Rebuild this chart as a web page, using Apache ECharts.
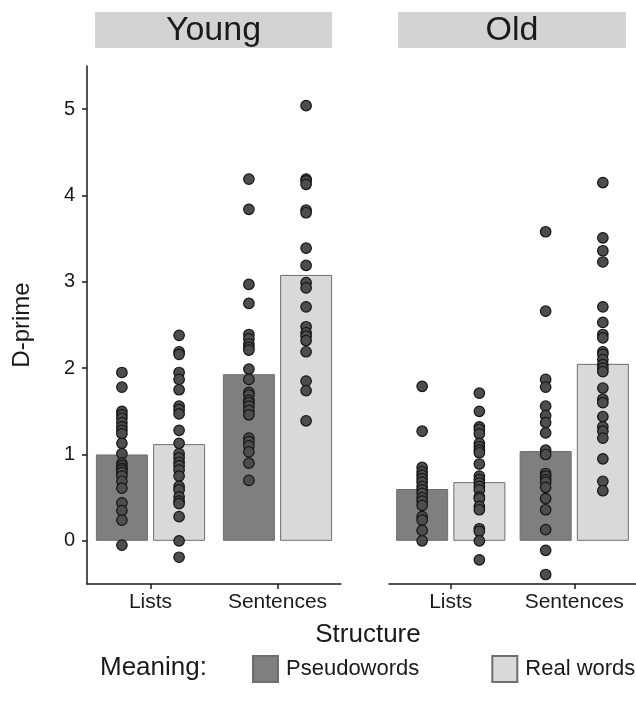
<!DOCTYPE html>
<html>
<head>
<meta charset="utf-8">
<script src="https://cdn.jsdelivr.net/npm/echarts@6/dist/echarts.min.js"></script>
<style>html,body{margin:0;padding:0;background:#fff;}#c{width:636px;height:713px;}</style>
</head>
<body>
<div id="c"></div>
<script>
// ---- data ----
var structures = ['Lists', 'Sentences'];
var panels = ['Young', 'Old'];
var meanings = ['Pseudowords', 'Real words'];
var yTicks = [0, 1, 2, 3, 4, 5];

var youngPseudoMeans = [1.00, 1.93];
var youngRealMeans = [1.12, 3.08];
var oldPseudoMeans = [0.60, 1.04];
var oldRealMeans = [0.68, 2.05];

var youngPseudoLists = [1.95, 1.78, 1.50, 1.46, 1.42, 1.37, 1.32, 1.28, 1.24, 1.13, 1.01, 0.90, 0.87, 0.84, 0.82, 0.79, 0.75, 0.69, 0.61, 0.44, 0.35, 0.24, -0.05];
var youngRealLists = [2.38, 2.19, 2.16, 1.95, 1.87, 1.75, 1.56, 1.52, 1.47, 1.28, 1.13, 1.01, 0.96, 0.91, 0.87, 0.82, 0.75, 0.63, 0.59, 0.51, 0.46, 0.43, 0.28, 0.00, -0.19];
var youngPseudoSentences = [4.19, 3.84, 2.97, 2.75, 2.39, 2.34, 2.28, 2.24, 2.21, 1.99, 1.87, 1.72, 1.69, 1.63, 1.60, 1.56, 1.51, 1.46, 1.19, 1.15, 1.10, 1.03, 0.90, 0.70];
var youngRealSentences = [5.04, 4.19, 4.17, 4.13, 3.83, 3.80, 3.39, 3.19, 2.99, 2.93, 2.71, 2.48, 2.41, 2.37, 2.32, 2.19, 1.85, 1.74, 1.39];
var oldPseudoLists = [1.79, 1.27, 0.85, 0.80, 0.76, 0.72, 0.68, 0.63, 0.59, 0.55, 0.50, 0.46, 0.41, 0.28, 0.24, 0.12, 0.00];
var oldRealLists = [1.71, 1.50, 1.32, 1.29, 1.24, 1.13, 1.09, 1.05, 1.02, 0.89, 0.75, 0.71, 0.67, 0.63, 0.59, 0.51, 0.49, 0.40, 0.36, 0.14, 0.11, 0.00, -0.22];
var oldPseudoSentences = [3.58, 2.66, 1.87, 1.78, 1.56, 1.45, 1.37, 1.25, 1.05, 1.00, 0.78, 0.75, 0.71, 0.68, 0.62, 0.49, 0.36, 0.13, -0.11, -0.39];
var oldRealSentences = [4.15, 3.51, 3.36, 3.23, 2.71, 2.53, 2.39, 2.35, 2.19, 2.16, 2.10, 2.04, 2.00, 1.96, 1.77, 1.64, 1.60, 1.44, 1.32, 1.27, 1.19, 0.95, 0.69, 0.58];

// ---- styling ----
var FONT = 'Liberation Sans';
var pseudoColor = '#7f7f7f';
var realColor = '#d9d9d9';
var barBorder = '#6e6e6e';
var barWidth = 52;
var barGapPct = 10;
var dotOffset = barWidth * (1 + barGapPct / 100) / 2;

function pts(cat, arr) { return arr.map(function (v) { return [cat, v]; }); }

var gridTop = 66, gridH = 518, gridW = 254;
var grids = [
  { left: 87, top: gridTop, width: gridW, height: gridH },
  { left: 389, top: gridTop, width: gridW, height: gridH }
];

function xAxisFor(i) {
  return {
    type: 'category', gridIndex: i, data: structures,
    axisLine: { show: true, onZero: false, lineStyle: { color: '#1a1a1a', width: 1.5 } },
    axisTick: { show: true, interval: 0, alignWithLabel: true, length: 5, lineStyle: { color: '#1a1a1a', width: 1.5 } },
    axisLabel: { interval: 0, hideOverlap: false, color: '#1a1a1a', fontSize: 21, fontFamily: FONT, margin: 8 },
    splitLine: { show: false }
  };
}
function yAxisFor(i) {
  return {
    type: 'value', gridIndex: i, min: -0.5, max: 5.5,
    show: i === 0,
    name: i === 0 ? 'D-prime' : '',
    nameLocation: 'middle', nameRotate: 90, nameGap: 53,
    nameTextStyle: { color: '#1a1a1a', fontSize: 24, fontFamily: FONT },
    axisLine: { show: true, onZero: false, lineStyle: { color: '#1a1a1a', width: 1.5 } },
    axisTick: { show: true, length: 5, customValues: yTicks, lineStyle: { color: '#1a1a1a', width: 1.5 } },
    axisLabel: { color: '#1a1a1a', fontSize: 20, fontFamily: FONT, margin: 12, customValues: yTicks },
    splitLine: { show: false }
  };
}

function barSeries(name, axis, data, color) {
  return {
    type: 'bar', name: name, xAxisIndex: axis, yAxisIndex: axis, data: data,
    barWidth: barWidth, barGap: barGapPct + '%',
    itemStyle: { color: color, borderColor: barBorder, borderWidth: 1 },
    z: 2, silent: true
  };
}
function dotSeries(name, axis, data, off) {
  return {
    type: 'scatter', name: name, xAxisIndex: axis, yAxisIndex: axis, data: data,
    symbol: 'circle', symbolSize: 10.5, symbolOffset: [off, 0],
    itemStyle: { color: '#4d4d4d', borderColor: '#141414', borderWidth: 1.2, opacity: 1 },
    z: 5, silent: true
  };
}

var series = [
  barSeries('Pseudowords', 0, youngPseudoMeans, pseudoColor),
  barSeries('Real words', 0, youngRealMeans, realColor),
  barSeries('Pseudowords', 1, oldPseudoMeans, pseudoColor),
  barSeries('Real words', 1, oldRealMeans, realColor),
  dotSeries('yp', 0, pts('Lists', youngPseudoLists).concat(pts('Sentences', youngPseudoSentences)), -dotOffset),
  dotSeries('yr', 0, pts('Lists', youngRealLists).concat(pts('Sentences', youngRealSentences)), dotOffset),
  dotSeries('op', 1, pts('Lists', oldPseudoLists).concat(pts('Sentences', oldPseudoSentences)), -dotOffset),
  dotSeries('or', 1, pts('Lists', oldRealLists).concat(pts('Sentences', oldRealSentences)), dotOffset)
];

var stripStyle = { fill: '#d3d3d3' };
var stripText = { fill: '#1a1a1a', fontSize: 34, fontFamily: FONT, align: 'center', verticalAlign: 'middle' };

var chart = echarts.init(document.getElementById('c'), null, { renderer: 'canvas' });
chart.setOption({
  animation: false,
  backgroundColor: '#ffffff',
  grid: grids,
  xAxis: [xAxisFor(0), xAxisFor(1)],
  yAxis: [yAxisFor(0), yAxisFor(1)],
  legend: {
    data: meanings, left: 252, top: 655, width: 384, orient: 'horizontal', padding: 0,
    icon: 'rect', itemWidth: 25, itemHeight: 26, itemGap: 72,
    textStyle: { color: '#1a1a1a', fontSize: 22, fontFamily: FONT, padding: [0, 0, 0, 3] },
    selectedMode: false
  },
  graphic: [
    { type: 'rect', shape: { x: 95, y: 12, width: 237, height: 36 }, style: stripStyle, silent: true },
    { type: 'text', x: 213.5, y: 31, style: Object.assign({ text: panels[0] }, stripText), silent: true },
    { type: 'rect', shape: { x: 398, y: 12, width: 228, height: 36 }, style: stripStyle, silent: true },
    { type: 'text', x: 512, y: 31, style: Object.assign({ text: panels[1] }, stripText), silent: true },
    { type: 'text', x: 368, y: 635, style: { text: 'Structure', fill: '#1a1a1a', fontSize: 26, fontFamily: FONT, align: 'center', verticalAlign: 'middle' }, silent: true },
    { type: 'text', x: 100, y: 668, style: { text: 'Meaning:', fill: '#1a1a1a', fontSize: 26, fontFamily: FONT, align: 'left', verticalAlign: 'middle' }, silent: true }
  ],
  series: series
});
</script>
</body>
</html>
